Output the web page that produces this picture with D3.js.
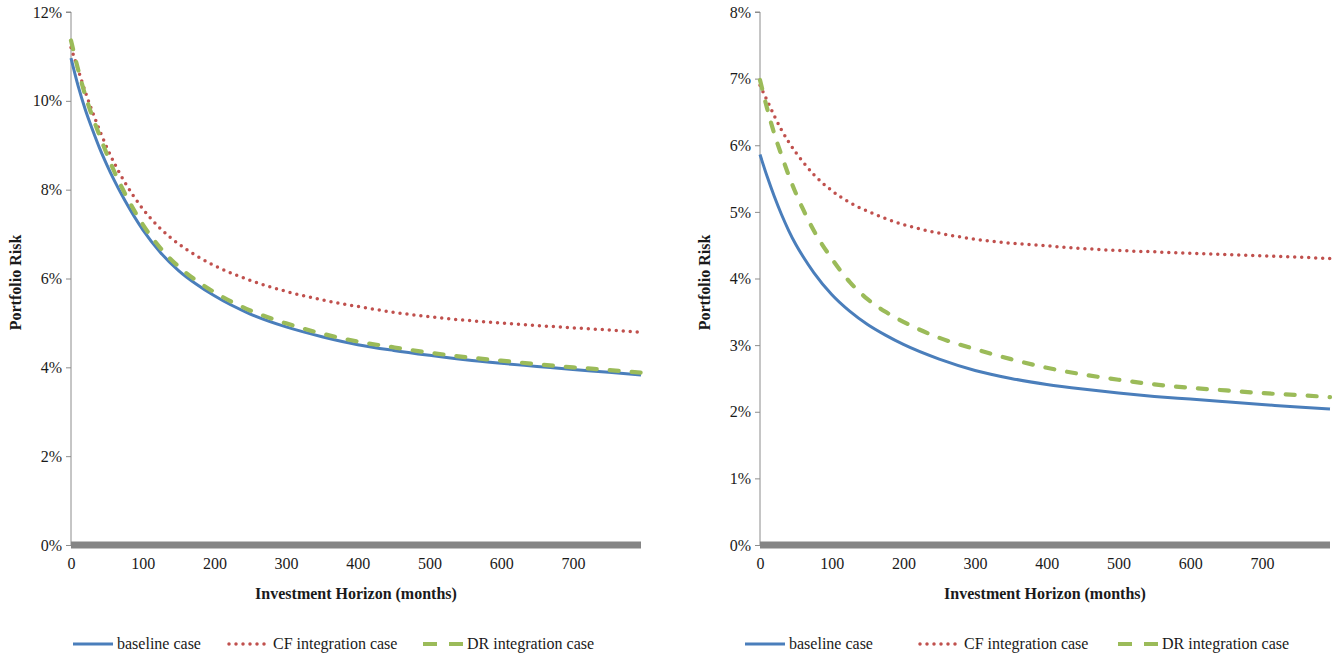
<!DOCTYPE html>
<html>
<head>
<meta charset="utf-8">
<script src="https://cdn.jsdelivr.net/npm/d3@7/dist/d3.min.js"></script>
<style>
  html, body { margin: 0; padding: 0; background: #fff; }
  svg { display: block; }
  svg text { font-family: "Times New Roman", "Liberation Serif", "DejaVu Serif", Times, serif !important; }
</style>
</head>
<body>
<svg id="chart" width="1338" height="660"></svg>
<script>
// ---- data (values in %) ----
const horizon = [0, 10, 20, 30, 40, 50, 60, 75, 100, 125, 150, 175, 200, 250, 300, 350, 400, 450, 500, 550, 600, 650, 700, 750, 795];

const leftBaseline = [10.96, 10.33, 9.80, 9.35, 8.93, 8.56, 8.22, 7.76, 7.10, 6.58, 6.18, 5.87, 5.61, 5.20, 4.91, 4.69, 4.51, 4.38, 4.27, 4.17, 4.09, 4.02, 3.95, 3.89, 3.83];
const leftCF       = [11.20, 10.70, 10.20, 9.75, 9.33, 8.95, 8.61, 8.17, 7.57, 7.12, 6.78, 6.51, 6.29, 5.96, 5.71, 5.52, 5.37, 5.24, 5.14, 5.06, 5.00, 4.94, 4.89, 4.84, 4.79];
const leftDR       = [11.36, 10.70, 10.12, 9.64, 9.21, 8.80, 8.42, 7.92, 7.22, 6.68, 6.27, 5.95, 5.69, 5.28, 4.99, 4.76, 4.58, 4.45, 4.33, 4.23, 4.15, 4.07, 4.00, 3.94, 3.88];

const rightBaseline = [5.86, 5.53, 5.23, 4.96, 4.72, 4.51, 4.33, 4.09, 3.76, 3.51, 3.31, 3.15, 3.01, 2.79, 2.62, 2.50, 2.41, 2.34, 2.28, 2.23, 2.19, 2.15, 2.11, 2.07, 2.04];
const rightCF       = [6.90, 6.67, 6.44, 6.23, 6.05, 5.89, 5.75, 5.56, 5.32, 5.14, 5.01, 4.90, 4.81, 4.68, 4.59, 4.53, 4.49, 4.45, 4.42, 4.40, 4.38, 4.36, 4.34, 4.32, 4.30];
const rightDR       = [6.98, 6.55, 6.17, 5.85, 5.55, 5.28, 5.04, 4.72, 4.30, 3.95, 3.69, 3.50, 3.35, 3.11, 2.94, 2.79, 2.66, 2.56, 2.48, 2.41, 2.36, 2.32, 2.28, 2.25, 2.22];

const xTicks = [0, 100, 200, 300, 400, 500, 600, 700];
const leftYTicks = [0, 2, 4, 6, 8, 10, 12];
const rightYTicks = [0, 1, 2, 3, 4, 5, 6, 7, 8];

const seriesNames = ["baseline case", "CF integration case", "DR integration case"];
const xTitle = "Investment Horizon (months)";
const yTitle = "Portfolio Risk";

// ---- styles ----
const styles = [
  { color: "#4A7EBB", width: 3, dash: null, cap: "butt", legendDash: null },
  { color: "#C0504D", width: 3.5, dash: "0,7", cap: "round", legendDash: "0,7" },
  { color: "#9BBB59", width: 4.2, dash: "9,13", cap: "round", legendDash: "14,12" }
];
const FONT = "'Times New Roman', 'Liberation Serif', 'DejaVu Serif', serif";

const svg = d3.select("#chart");

function drawPanel(opts) {
  const { x0, x1, yTop, yBottom, yMax, yTicks, series, legend } = opts;
  const x = d3.scaleLinear().domain([0, 795]).range([x0, x1]);
  const y = d3.scaleLinear().domain([0, yMax]).range([yBottom, yTop]);
  const g = svg.append("g").attr("font-family", FONT);

  // y axis
  const yAxis = d3.axisLeft(y).tickValues(yTicks).tickSize(5).tickPadding(4)
    .tickFormat(d => d + "%");
  const ya = g.append("g").attr("transform", `translate(${x0},0)`).call(yAxis)
    .attr("font-family", FONT).attr("font-size", 16);
  ya.select(".domain").attr("stroke", "#8c8c8c").attr("stroke-width", 1)
    .attr("d", `M-5,${yTop}H0V${yBottom}`);
  ya.selectAll(".tick line").attr("stroke", "#8c8c8c");
  ya.selectAll(".tick text").attr("fill", "#1a1a1a");

  // x axis
  const xAxis = d3.axisBottom(x).tickValues(xTicks).tickSize(0).tickPadding(13)
    .tickFormat(d3.format("d"));
  const xa = g.append("g").attr("transform", `translate(0,${yBottom})`).call(xAxis)
    .attr("font-family", FONT).attr("font-size", 16);
  xa.select(".domain").attr("stroke", "#858585").attr("stroke-width", 7)
    .attr("d", `M${x0},0H${x1}`);
  xa.selectAll(".tick text").attr("fill", "#1a1a1a");

  // lines
  const line = d3.line().x((d, i) => x(horizon[i])).y(d => y(d)).curve(d3.curveMonotoneX);
  series.forEach((s, k) => {
    const st = styles[k];
    g.append("path").datum(s)
      .attr("fill", "none")
      .attr("stroke", st.color)
      .attr("stroke-width", st.width)
      .attr("stroke-linecap", st.cap)
      .attr("stroke-dasharray", st.dash)
      .attr("d", line);
  });

  // axis titles
  g.append("text")
    .attr("transform", `translate(${x0 - 54},${(yTop + yBottom) / 2 + 4}) rotate(-90)`)
    .attr("text-anchor", "middle")
    .attr("dominant-baseline", "middle")
    .style("font-size", "16px").style("font-weight", "bold").attr("fill", "#1a1a1a")
    .text(yTitle);
  g.append("text")
    .attr("x", (x0 + x1) / 2).attr("y", 599)
    .attr("text-anchor", "middle")
    .style("font-size", "16px").style("font-weight", "bold").attr("fill", "#1a1a1a")
    .text(xTitle);

  // legend
  const ly = 644;
  legend.forEach((lx, k) => {
    const st = styles[k];
    g.append("line")
      .attr("x1", lx).attr("x2", lx + 40).attr("y1", ly).attr("y2", ly)
      .attr("stroke", st.color).attr("stroke-width", st.width)
      .attr("stroke-linecap", k === 2 ? "butt" : st.cap).attr("stroke-dasharray", st.legendDash);
    g.append("text")
      .attr("x", lx + 44).attr("y", ly + 5)
      .style("font-size", "16px").attr("fill", "#1a1a1a")
      .text(seriesNames[k]);
  });
}

drawPanel({
  x0: 71, x1: 641, yTop: 12, yBottom: 545, yMax: 12, yTicks: leftYTicks,
  series: [leftBaseline, leftCF, leftDR],
  legend: [73, 229, 423]
});

drawPanel({
  x0: 760, x1: 1330, yTop: 12, yBottom: 545, yMax: 8, yTicks: rightYTicks,
  series: [rightBaseline, rightCF, rightDR],
  legend: [745, 920, 1118]
});
</script>
</body>
</html>
